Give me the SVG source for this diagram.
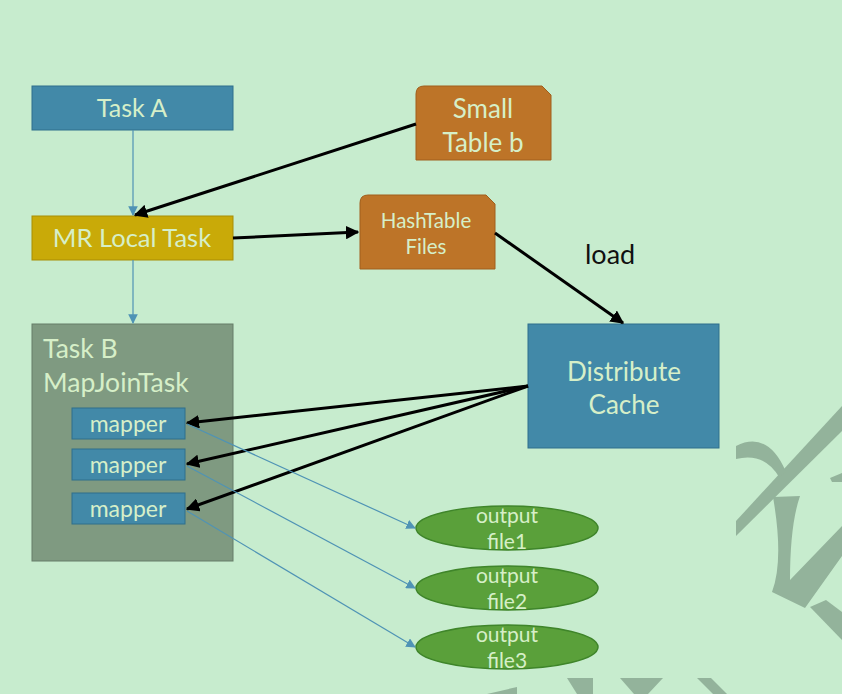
<svg xmlns="http://www.w3.org/2000/svg" width="842" height="694" viewBox="0 0 842 694">
<defs>
<style>
.t{font-family:Lato,"Open Sans","Liberation Sans",sans-serif;fill:#d6efc8;text-anchor:middle}
.blue{fill:#4289a8;stroke:#2f6f8c;stroke-width:1}
.orange{fill:#bd7428;stroke:#a05f1c;stroke-width:1}
.ell{fill:#5aa03a;stroke:#3f852a;stroke-width:1.5}
.thick{stroke:#000;stroke-width:3;fill:none;marker-end:url(#ab)}
.thin{stroke:#4f93b5;stroke-width:1.2;fill:none;marker-end:url(#at)}
.wm{fill:#93b39b}
</style>
<marker id="ab" viewBox="0 0 10 10" refX="9" refY="5" markerWidth="4.5" markerHeight="4.5" orient="auto" markerUnits="strokeWidth"><path d="M0,0 L10,5 L0,10 Z" fill="#000"/></marker>
<marker id="at" viewBox="0 0 10 10" refX="9" refY="5" markerWidth="8" markerHeight="8" orient="auto" markerUnits="strokeWidth"><path d="M0,0 L10,5 L0,10 Z" fill="#4f93b5"/></marker>
</defs>
<rect width="842" height="694" fill="#c7ecce"/>
<g id="watermark">
<path class="wm" d="M736,521 L842,406 L842,431 L736,536 Z"/>
<path class="wm" d="M736,446 Q768,430 786,472 L779,477 Q764,452 736,459 Z"/>
<path class="wm" d="M773,497 L800,496 Q790,525 790,580 L842,526 L842,556 L805,608 L772,592 Q784,560 773,497 Z"/>
<path class="wm" d="M830,478 L842,473 L842,482 L832,482 Z"/>
<path class="wm" d="M810,607 L826,600 L842,612 L842,640 Z"/>
<path class="wm" d="M487,694 L517,687 L517,694 Z"/>
<path class="wm" d="M567,678 L593,678 L593,694 L577,694 Z"/>
<path class="wm" d="M620,678 L663,678 L648,694 L634,694 Z"/>
<path class="wm" d="M697,678 L711,678 L727,694 L713,694 Z"/>
</g>
<g id="taskA"><rect class="blue" x="32" y="86" width="201" height="44"/><text class="t" x="132" y="117" font-size="25">Task A</text></g>
<g id="mrLocal"><rect x="32" y="216" width="201" height="44" fill="#c9aa08" stroke="#a88d05"/><text class="t" x="132" y="247" font-size="25.5">MR Local Task</text></g>
<g id="smallTable"><path class="orange" d="M424,86 L542,86 L551,95 L551,160 L416,160 L416,94 Q416,86 424,86 Z"/><text class="t" x="483" y="118" font-size="26">Small</text><text class="t" x="483" y="152" font-size="26">Table b</text></g>
<g id="hashTable"><path class="orange" d="M368,195 L486,195 L495,204 L495,269 L360,269 L360,203 Q360,195 368,195 Z"/><text class="t" x="426" y="228" font-size="20.5">HashTable</text><text class="t" x="426" y="254" font-size="20.5">Files</text></g>
<g id="distCache"><rect class="blue" x="528" y="324" width="191" height="124"/><text class="t" x="624" y="381" font-size="26">Distribute</text><text class="t" x="624" y="414" font-size="26">Cache</text></g>
<g id="taskB"><rect x="32" y="324" width="201" height="237" fill="#7f9a81" stroke="#667d68"/><text class="t" x="43" y="358" font-size="26.5" style="text-anchor:start">Task B</text><text class="t" x="43" y="392" font-size="26.5" style="text-anchor:start">MapJoinTask</text></g>
<g id="mapper1"><rect class="blue" x="72" y="408" width="113" height="31"/><text class="t" x="128" y="432" font-size="23">mapper</text></g>
<g id="mapper2"><rect class="blue" x="72" y="449" width="113" height="31"/><text class="t" x="128" y="473" font-size="23">mapper</text></g>
<g id="mapper3"><rect class="blue" x="72" y="493" width="113" height="31"/><text class="t" x="128" y="517" font-size="23">mapper</text></g>
<g id="out1"><ellipse class="ell" cx="507" cy="528" rx="91" ry="22"/><text class="t" x="507" y="523" font-size="21">output</text><text class="t" x="507" y="549" font-size="21">file1</text></g>
<g id="out2"><ellipse class="ell" cx="507" cy="588" rx="91" ry="22"/><text class="t" x="507" y="583" font-size="21">output</text><text class="t" x="507" y="609" font-size="21">file2</text></g>
<g id="out3"><ellipse class="ell" cx="507" cy="647" rx="91" ry="22"/><text class="t" x="507" y="642" font-size="21">output</text><text class="t" x="507" y="668" font-size="21">file3</text></g>
<g id="connectors">
<line class="thin" x1="133" y1="130" x2="133" y2="215"/>
<line class="thin" x1="133" y1="260" x2="133" y2="323"/>
<line class="thick" x1="416" y1="124" x2="135" y2="215"/>
<line class="thick" x1="233" y1="238" x2="358" y2="232"/>
<line class="thick" x1="495" y1="233" x2="623" y2="323"/>
<line class="thick" x1="528" y1="386" x2="187" y2="423"/>
<line class="thick" x1="528" y1="386" x2="187" y2="464"/>
<line class="thick" x1="528" y1="386" x2="187" y2="509"/>
<line class="thin" x1="187" y1="424" x2="415" y2="528"/>
<line class="thin" x1="187" y1="466" x2="415" y2="588"/>
<line class="thin" x1="187" y1="511" x2="415" y2="647"/>
<text x="585" y="264" font-family="Lato,'Open Sans','Liberation Sans',sans-serif" font-size="27" fill="#111">load</text>
</g>
</svg>
